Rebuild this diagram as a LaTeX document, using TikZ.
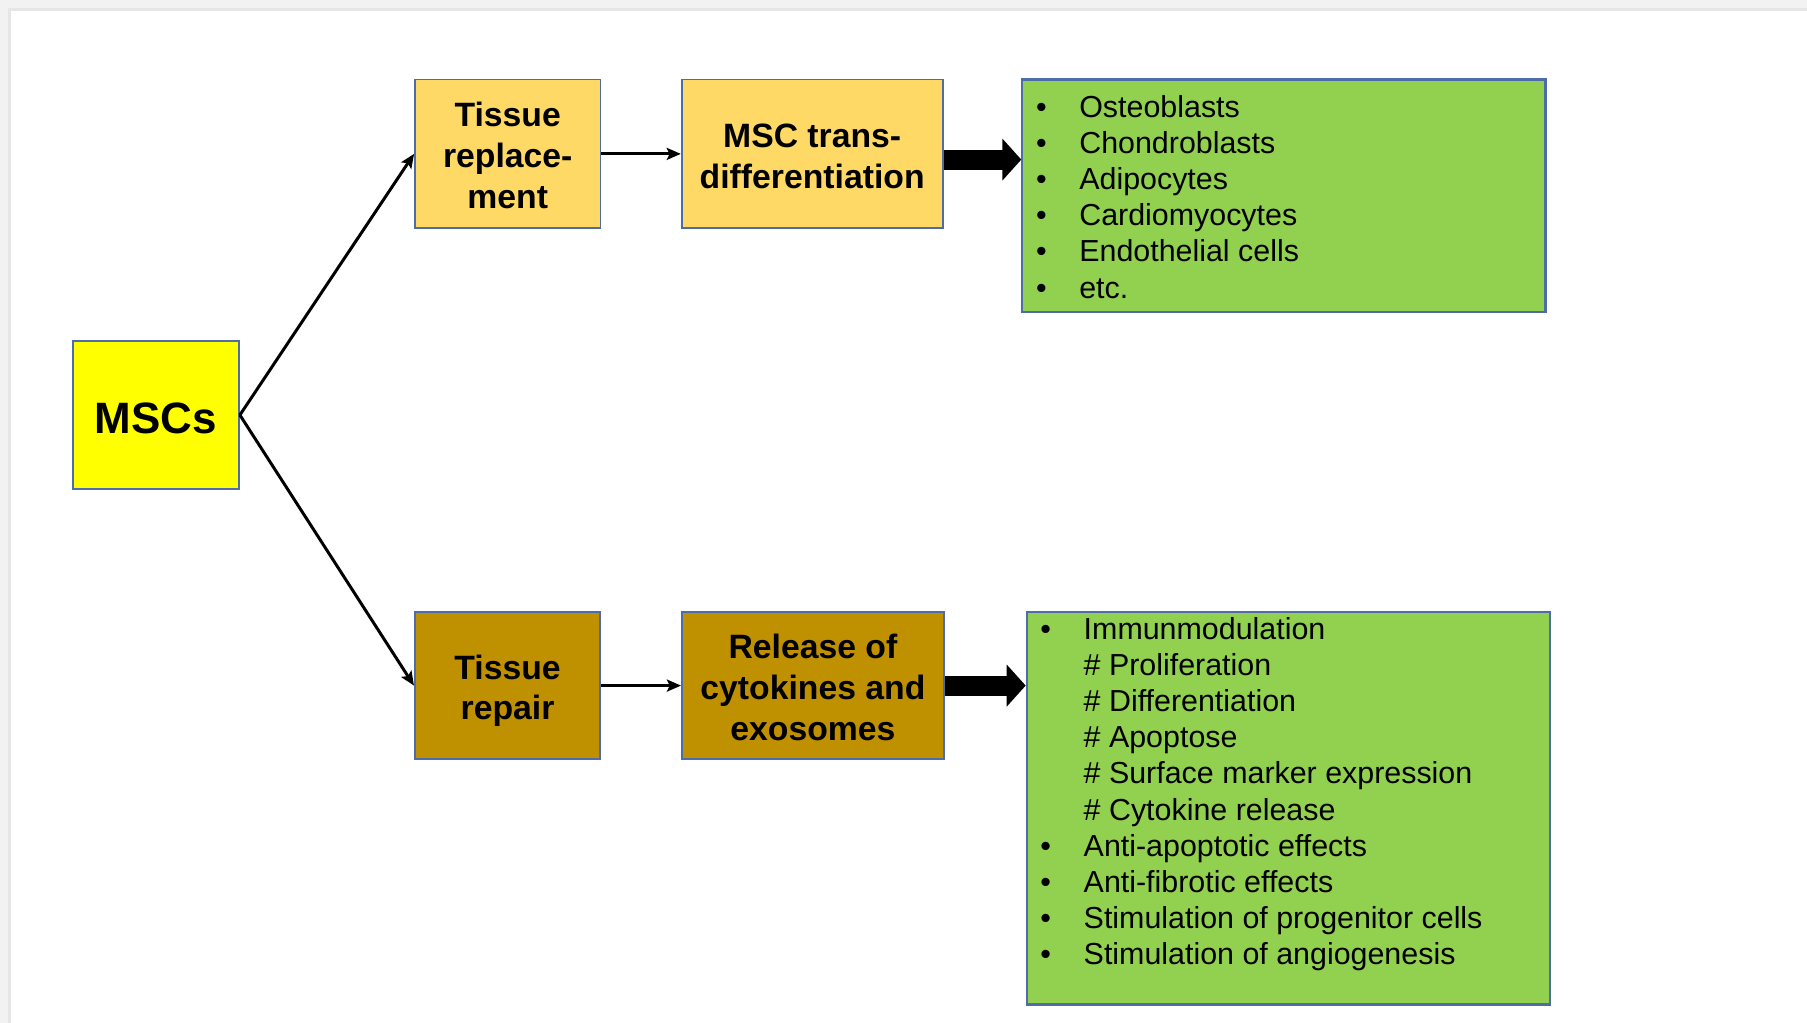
\documentclass[tikz,border=0pt]{standalone}
\usepackage{fontspec}
\setmainfont{Liberation Sans}
\usetikzlibrary{arrows.meta,calc}

\definecolor{mscyellow}{HTML}{FFFF00}
\definecolor{goldlight}{HTML}{FFD966}
\definecolor{golddark}{HTML}{BF9000}
\definecolor{cellgreen}{HTML}{92D050}
\definecolor{boxline}{HTML}{4E6CA8}
\definecolor{frameA}{HTML}{F2F2F2}
\definecolor{frameB}{HTML}{E6E6E6}

% strut for the first line, so box texts sit like in the slide
\newcommand{\topline}{\rule{0pt}{0.82em}}

\begin{document}
\begin{tikzpicture}[
    box/.style={draw=boxline, line width=0.5pt, inner sep=0pt, align=center,
      text depth=0pt, font=\bfseries\fontsize{9.6}{11.6}\selectfont},
    greenbox/.style={draw=boxline, line width=0.6pt, fill=cellgreen, inner sep=0pt},
    listtext/.style={anchor=base west, inner sep=0pt, align=left,
      font=\fontsize{8.65}{10.3}\selectfont},
    linkarrow/.style={line width=0.85pt, -{Stealth[length=4pt,width=3.4pt,inset=0.8pt]}},
    fatarrow/.style={line width=0.2cm, -{Triangle[length=0.19cm,width=0.41cm]}}
  ]

  % --------- page and frame ----------
  \useasboundingbox (0,0) rectangle (18.07,-10.23);
  \fill[white] (0,0) rectangle (18.07,-10.23);
  \fill[frameA] (0,0) rectangle (18.07,-0.08);
  \fill[frameB] (0.11,-0.08) rectangle (18.07,-0.11);
  \fill[frameA] (0,0) rectangle (0.08,-10.23);
  \fill[frameB] (0.08,-0.08) rectangle (0.11,-10.23);
  % ------------------------------------

  % Source
  \node[box, fill=mscyellow, minimum width=1.66cm, minimum height=1.48cm,
    font=\bfseries\fontsize{12.5}{15}\selectfont] (msc) at (1.56,-4.15)
    {\topline MSCs};

  % ============== Upper branch =================
  \node[box, fill=goldlight, minimum width=1.855cm, minimum height=1.487cm]
    (replace) at (5.077,-1.539) {\topline Tissue\\replace-\\ment};
  \node[box, fill=goldlight, minimum width=2.61cm, minimum height=1.487cm]
    (trans) at (8.122,-1.539) {\topline MSC trans-\\differentiation};
  \node[greenbox, minimum width=5.231cm, minimum height=2.328cm]
    (cells) at (12.839,-1.959) {};
  \node[listtext] (celllist) at ($(cells.north west)+(0.14,-0.387)$) {%
    \begin{tabular}[t]{@{}l@{\hspace{9.3pt}}l@{}}
      \textbullet & Osteoblasts\\
      \textbullet & Chondroblasts\\
      \textbullet & Adipocytes\\
      \textbullet & Cardiomyocytes\\
      \textbullet & Endothelial cells\\
      \textbullet & etc.
    \end{tabular}};

  % ============== Lower branch =================
  \node[box, fill=golddark, minimum width=1.855cm, minimum height=1.475cm]
    (repair) at (5.076,-6.856) {\topline Tissue\\repair};
  \node[box, fill=golddark, minimum width=2.62cm, minimum height=1.475cm]
    (release) at (8.129,-6.856) {\topline Release of\\cytokines and\\exosomes};
  \node[greenbox, minimum width=5.233cm, minimum height=3.926cm]
    (effects) at (12.884,-8.082) {};
  \node[listtext] (effectlist) at ($(effects.north west)+(0.14,-0.282)$) {%
    \begin{tabular}[t]{@{}l@{\hspace{9.3pt}}l@{}}
      \textbullet & Immunmodulation\\
                  & \# Proliferation\\
                  & \# Differentiation\\
                  & \# Apoptose\\
                  & \# Surface marker expression\\
                  & \# Cytokine release\\
      \textbullet & Anti-apoptotic effects\\
      \textbullet & Anti-fibrotic effects\\
      \textbullet & Stimulation of progenitor cells\\
      \textbullet & Stimulation of angiogenesis
    \end{tabular}};

  % Connectors
  \draw[linkarrow] (msc.east) -- (replace.west);
  \draw[linkarrow] (msc.east) -- (repair.west);
  \draw[linkarrow] (replace.east) -- (trans.west);
  \draw[linkarrow] (repair.east) -- (release.west);

  % Block arrows
  \draw[fatarrow] ($(trans.east)+(0,-0.057)$) -- ($(trans.east -| cells.west)+(0,-0.057)$);
  \draw[fatarrow] (release.east) -- (release.east -| effects.west);

\end{tikzpicture}
\end{document}
